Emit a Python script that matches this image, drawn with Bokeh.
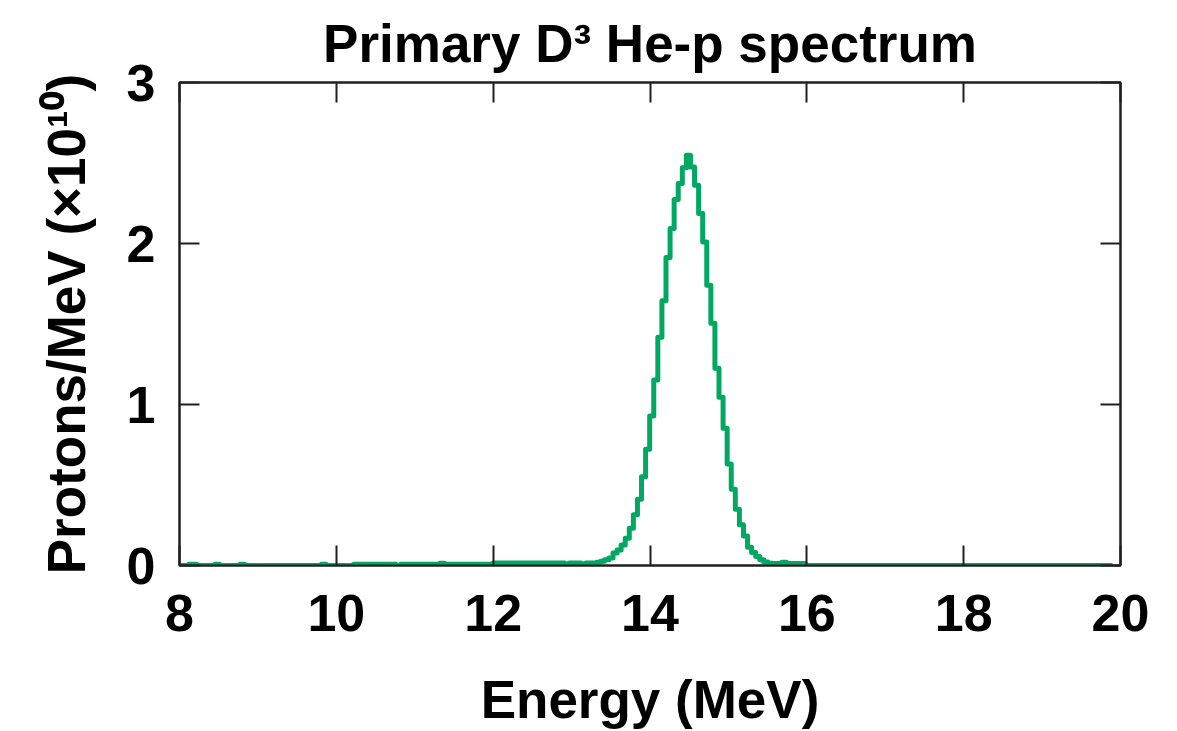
from bokeh.plotting import figure
from bokeh.models import Range1d, FixedTicker, LinearAxis
from bokeh.embed import file_html
from bokeh.resources import INLINE

# ---------------- data ----------------
bin_left_edges = [
    8.00, 8.12, 8.22, 8.45, 8.51, 8.77, 8.83, 9.81, 9.87,
    10.22, 10.76, 10.82, 11.32, 11.38,
    12.00, 12.91, 12.97, 13.12, 13.18, 13.32, 13.37, 13.42, 13.476,
    13.528, 13.580, 13.632, 13.684, 13.736, 13.788, 13.840, 13.892, 13.944, 13.996,
    14.048, 14.100, 14.152, 14.204, 14.256, 14.308, 14.360, 14.412, 14.464, 14.516,
    14.568, 14.620, 14.672, 14.724, 14.776, 14.828, 14.880, 14.932, 14.984, 15.036,
    15.088, 15.140, 15.192, 15.244, 15.296, 15.348, 15.400, 15.452, 15.504, 15.556,
    15.68, 15.74, 15.98,
]
protons_per_mev = [
    0.0, 0.008, 0.0, 0.008, 0.0, 0.008, 0.0, 0.008, 0.0,
    0.008, 0.002, 0.008, 0.014, 0.008,
    0.016, 0.010, 0.016, 0.010, 0.016, 0.020, 0.027, 0.035, 0.046,
    0.077, 0.097, 0.128, 0.170, 0.232, 0.315, 0.412, 0.552, 0.722, 0.929,
    1.152, 1.417, 1.644, 1.913, 2.093, 2.273, 2.372, 2.471, 2.548, 2.475,
    2.362, 2.186, 2.010, 1.741, 1.504, 1.225, 1.045, 0.852, 0.631, 0.474,
    0.350, 0.253, 0.184, 0.114, 0.081, 0.056, 0.035, 0.022, 0.014, 0.012,
    0.020, 0.012, 0.0,
]
last_edge = 19.88

x_ticks = [8, 10, 12, 14, 16, 18, 20]
y_ticks = [0, 1, 2, 3]

title_text = "Primary D\u00b3 He-p spectrum"
x_label = "Energy (MeV)"
y_label = "Protons/MeV (\u00d710\u00b9\u2070)"

# ---------------- figure ----------------
W, H = 1177, 731
FONT = "Liberation Sans"
INK = "#231f20"
GREEN = "#00a862"

p = figure(width=W, height=H, output_backend="svg", toolbar_location=None,
           x_range=Range1d(8, 20), y_range=Range1d(0, 3),
           min_border_left=179, min_border_right=57,
           min_border_top=82, min_border_bottom=165,
           title=title_text)
p.grid.visible = False
p.background_fill_color = "white"
p.border_fill_color = "white"
p.outline_line_color = INK
p.outline_line_width = 2

p.title.text_font = FONT
p.title.text_font_style = "bold"
p.title.text_font_size = "53px"
p.title.text_color = "black"
p.title.align = "center"
p.title.standoff = 20
p.title.text_line_height = 1.0

xs = bin_left_edges + [last_edge]
ys = protons_per_mev + [protons_per_mev[-1]]
p.step(xs, ys, mode="after", line_color=GREEN, line_width=5,
       line_join="round", line_cap="round")

bottom_ax = p.below[0]
left_ax = p.left[0]
top_ax = LinearAxis()
right_ax = LinearAxis()
p.add_layout(top_ax, "above")
p.add_layout(right_ax, "right")

for ax in [bottom_ax, top_ax]:
    ax.ticker = FixedTicker(ticks=x_ticks)
for ax in [left_ax, right_ax]:
    ax.ticker = FixedTicker(ticks=y_ticks)

for ax in [bottom_ax, left_ax, top_ax, right_ax]:
    ax.major_tick_in = 20
    ax.major_tick_out = 0
    ax.minor_tick_in = 0
    ax.minor_tick_out = 0
    ax.major_tick_line_color = INK
    ax.major_tick_line_width = 2
    ax.axis_line_color = INK
    ax.axis_line_width = 2
    ax.major_label_text_font = FONT
    ax.major_label_text_font_style = "bold"
    ax.major_label_text_color = "black"
    ax.major_label_text_font_size = "52px"
    ax.axis_label_text_font = FONT
    ax.axis_label_text_font_style = "bold"
    ax.axis_label_text_font_size = "53px"
    ax.axis_label_text_color = "black"

top_ax.major_label_overrides = {t: "" for t in x_ticks}
right_ax.major_label_overrides = {t: "" for t in y_ticks}
for ax in [top_ax, right_ax]:
    ax.major_label_text_font_size = "10px"
    ax.major_label_standoff = 0

bottom_ax.major_label_standoff = 29
left_ax.major_label_standoff = 24

bottom_ax.axis_label = x_label
bottom_ax.axis_label_standoff = 36
left_ax.axis_label = y_label
left_ax.axis_label_standoff = 28

open("out.html", "w").write(file_html(p, INLINE))
